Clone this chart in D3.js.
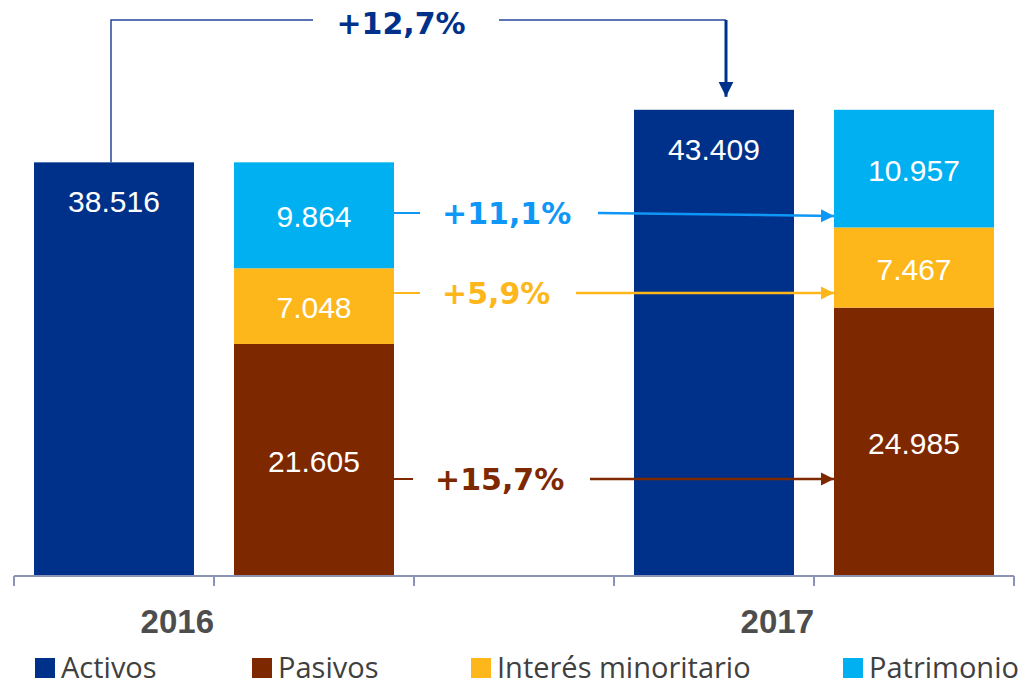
<!DOCTYPE html>
<html>
<head>
<meta charset="utf-8">
<script src="https://cdn.jsdelivr.net/npm/d3@7"></script>
<style>
  body { margin: 0; background: #fff; }
</style>
</head>
<body>
<script>
// data
var years = ["2016", "2017"];
var seriesNames = ["Activos", "Pasivos", "Interés minoritario", "Patrimonio"];
var activos = [38516, 43409];
var pasivos = [21605, 24985];
var interes = [7048, 7467];
var patrimonio = [9864, 10957];
var growthTotal = "+12,7%";
var growthParts = ["+15,7%", "+5,9%", "+11,1%"]; // pasivos, interes, patrimonio

var colors = ["#00318a", "#7e2800", "#fdb71b", "#00b0f0"];
var partColors = ["#7e2800", "#fdb71b", "#0e97f6"];

var w = 1022, h = 688;
var svg = d3.select("body").append("svg")
  .attr("width", w)
  .attr("height", h);

// 5 slots: activos 2016, stack 2016, empty, activos 2017, stack 2017
var slots = ["a0", "s0", "gap", "a1", "s1"];
var xScale = d3.scaleBand()
  .domain(slots)
  .range([14, 1014])
  .paddingInner(0.2)
  .paddingOuter(0.1);
var yScale = d3.scaleLinear()
  .domain([0, 50000])
  .range([576, 39]);

var fmt = d3.formatLocale({decimal: ",", thousands: ".", grouping: [3], currency: ["", ""]}).format(",d");

// activos bars
svg.selectAll("rect.act")
  .data(activos)
  .enter()
  .append("rect")
  .attr("class", "act")
  .attr("x", function(d, i) { return xScale("a" + i); })
  .attr("width", xScale.bandwidth())
  .attr("y", function(d) { return yScale(d); })
  .attr("height", function(d) { return yScale(0) - yScale(d); })
  .attr("fill", colors[0]);

svg.selectAll("text.act")
  .data(activos)
  .enter()
  .append("text")
  .attr("class", "act")
  .attr("x", function(d, i) { return xScale("a" + i) + xScale.bandwidth() / 2; })
  .attr("y", function(d) { return yScale(d) + 50; })
  .attr("text-anchor", "middle")
  .attr("font-family", "Liberation Sans, Arial, sans-serif")
  .attr("font-size", "30px")
  .attr("fill", "#fff")
  .text(function(d) { return fmt(d); });

// stacked bars
var stackRows = years.map(function(y, i) {
  return {idx: i, pasivos: pasivos[i], interes: interes[i], patrimonio: patrimonio[i]};
});
var stack = d3.stack().keys(["pasivos", "interes", "patrimonio"]);
var layers = stack(stackRows);

var layerG = svg.selectAll("g.layer")
  .data(layers)
  .enter()
  .append("g")
  .attr("class", "layer")
  .attr("fill", function(d, i) { return colors[i + 1]; });

layerG.selectAll("rect")
  .data(function(d) { return d; })
  .enter()
  .append("rect")
  .attr("x", function(d) { return xScale("s" + d.data.idx); })
  .attr("width", xScale.bandwidth())
  .attr("y", function(d) { return yScale(d[1]); })
  .attr("height", function(d) { return yScale(d[0]) - yScale(d[1]); });

layerG.selectAll("text")
  .data(function(d) { return d; })
  .enter()
  .append("text")
  .attr("x", function(d) { return xScale("s" + d.data.idx) + xScale.bandwidth() / 2; })
  .attr("y", function(d) { return (yScale(d[0]) + yScale(d[1])) / 2 + 12; })
  .attr("text-anchor", "middle")
  .attr("font-family", "Liberation Sans, Arial, sans-serif")
  .attr("font-size", "30px")
  .attr("fill", "#fff")
  .text(function(d) { return fmt(d[1] - d[0]); });

// axis
var axisY = yScale(0);
var ticks = slots.map(function(s) { return xScale(s) - xScale.step() * 0.1; });
ticks.push(xScale.range()[1]);
svg.append("line")
  .attr("x1", ticks[0]).attr("x2", ticks[ticks.length - 1])
  .attr("y1", axisY).attr("y2", axisY)
  .attr("stroke", "#8b93b6").attr("stroke-width", 2);
svg.selectAll("line.tick")
  .data(ticks)
  .enter()
  .append("line")
  .attr("class", "tick")
  .attr("x1", function(d) { return d; }).attr("x2", function(d) { return d; })
  .attr("y1", axisY).attr("y2", axisY + 10)
  .attr("stroke", "#8b93b6").attr("stroke-width", 2);

// year labels (right aligned at group tick)
svg.selectAll("text.year")
  .data(years)
  .enter()
  .append("text")
  .attr("class", "year")
  .attr("x", function(d, i) { return ticks[i * 3 + 1]; })
  .attr("y", 633)
  .attr("text-anchor", "end")
  .attr("font-family", "Liberation Sans, Arial, sans-serif")
  .attr("font-weight", "bold")
  .attr("font-size", "33px")
  .attr("fill", "#4d4d4d")
  .text(function(d) { return d; });

// legend
var legendX = [35, 252, 471, 843];
var lg = svg.selectAll("g.legend")
  .data(seriesNames)
  .enter()
  .append("g")
  .attr("class", "legend")
  .attr("transform", function(d, i) { return "translate(" + legendX[i] + ",658)"; });
lg.append("rect")
  .attr("width", 20).attr("height", 20)
  .attr("fill", function(d, i) { return colors[i]; });
lg.append("text")
  .attr("x", 26).attr("y", 20)
  .attr("font-family", "Open Sans, Noto Sans, sans-serif")
  .attr("font-size", "29px")
  .attr("fill", "#404040")
  .text(function(d) { return d; });

// arrowheads
var defs = svg.append("defs");
function marker(id, color, mw, mh) {
  defs.append("marker")
    .attr("id", id)
    .attr("viewBox", "0 0 10 10")
    .attr("refX", 10).attr("refY", 5)
    .attr("markerUnits", "userSpaceOnUse")
    .attr("markerWidth", mw).attr("markerHeight", mh)
    .attr("orient", "auto")
    .append("path")
    .attr("d", "M0,0L10,5L0,10Z")
    .attr("fill", color);
}
marker("arrTop", "#00318a", 15, 17);
partColors.forEach(function(c, i) { marker("arr" + i, c, 13, 15); });

// total growth annotation
var topY = 20;
var xa0 = xScale("a0") + xScale.bandwidth() / 2 - 3;
var xa1 = xScale("a1") + xScale.bandwidth() / 2 + 12;
svg.append("path")
  .attr("d", "M" + xa0 + "," + yScale(activos[0]) + "V" + topY + "H313")
  .attr("fill", "none").attr("stroke", "#27479a").attr("stroke-width", 1.5);
svg.append("path")
  .attr("d", "M499," + topY + "H" + xa1)
  .attr("fill", "none").attr("stroke", "#27479a").attr("stroke-width", 1.5);
svg.append("line")
  .attr("x1", xa1).attr("x2", xa1)
  .attr("y1", topY).attr("y2", yScale(activos[1]) - 13)
  .attr("stroke", "#00318a").attr("stroke-width", 3)
  .attr("marker-end", "url(#arrTop)");
svg.append("text")
  .attr("x", 401).attr("y", 34)
  .attr("text-anchor", "middle")
  .attr("font-family", "DejaVu Sans, Verdana, sans-serif")
  .attr("font-weight", "bold")
  .attr("font-size", "30px")
  .attr("fill", "#00318a")
  .text(growthTotal);

// component growth annotations
var arrowY = [479, 293, 213];
var leftEnd = [413, 420, 420];
var textStart = [435, 442, 442];
var lineStart = [590, 576, 598];
var sx = xScale("s0") + xScale.bandwidth();
var ex = xScale("s1");
growthParts.forEach(function(g, i) {
  svg.append("line")
    .attr("x1", sx).attr("x2", leftEnd[i])
    .attr("y1", arrowY[i]).attr("y2", arrowY[i])
    .attr("stroke", partColors[i]).attr("stroke-width", 2);
  svg.append("line")
    .attr("x1", lineStart[i]).attr("x2", ex)
    .attr("y1", arrowY[i]).attr("y2", arrowY[i] + (i === 2 ? 3 : 0))
    .attr("stroke", partColors[i]).attr("stroke-width", 2.5)
    .attr("marker-end", "url(#arr" + i + ")");
  svg.append("text")
    .attr("x", textStart[i]).attr("y", arrowY[i] + 11)
    .attr("font-family", "DejaVu Sans, Verdana, sans-serif")
    .attr("font-weight", "bold")
    .attr("font-size", "30px")
    .attr("fill", partColors[i])
    .text(g);
});
</script>
</body>
</html>
